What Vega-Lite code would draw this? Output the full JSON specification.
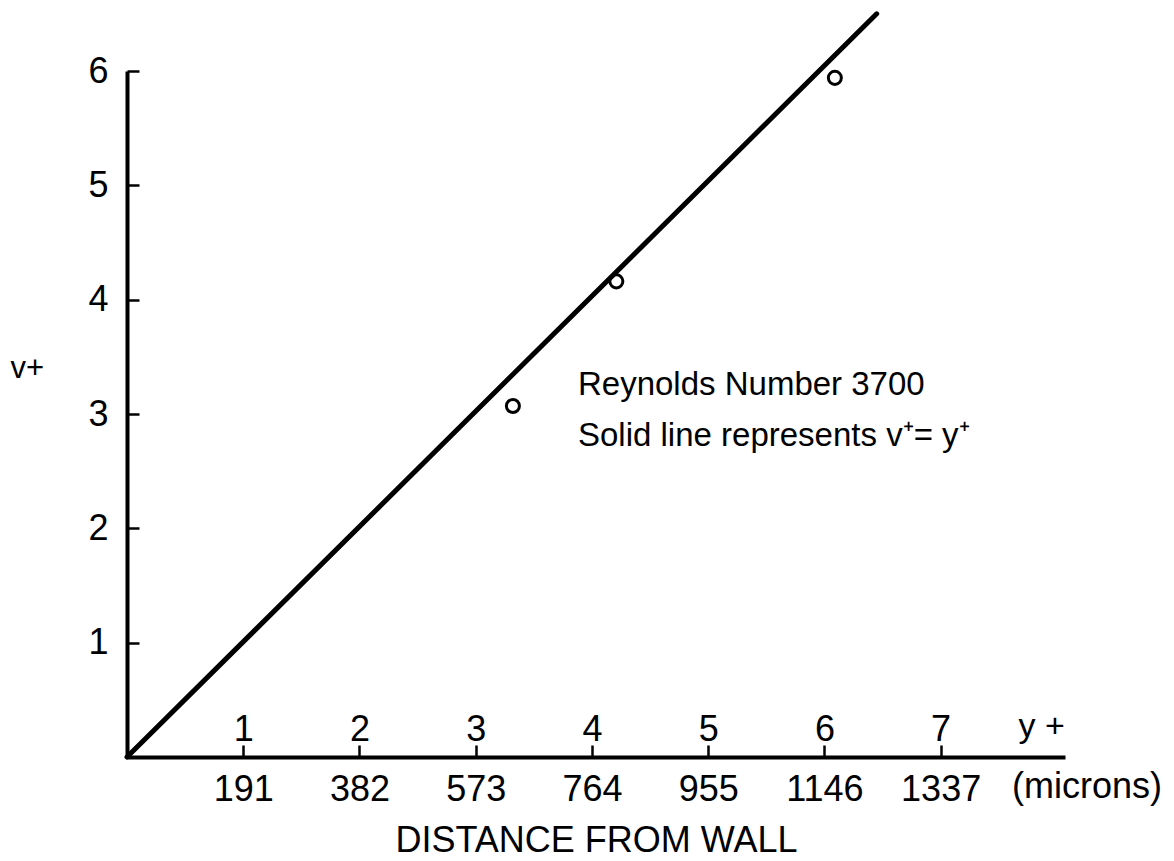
{
  "$schema": "https://vega.github.io/schema/vega-lite/v6.json",
  "width": 938,
  "height": 686,
  "autosize": "none",
  "padding": {"left": 127, "top": 71, "right": 109, "bottom": 104},
  "background": "white",
  "config": {"view": {"stroke": null}, "font": "Liberation Sans", "axis": {"grid": false}},
  "layer": [
    {
      "data": {"values": [{"yplus": 0, "vplus": 0}, {"yplus": 6.45, "vplus": 6.5}]},
      "mark": {"type": "line", "color": "black", "strokeWidth": 5, "strokeCap": "round"},
      "encoding": {
        "x": {"field": "yplus", "type": "quantitative", "scale": {"domain": [0, 8.07], "nice": false, "zero": true},
          "axis": {"orient": "bottom", "values": [1, 2, 3, 4, 5, 6, 7], "labelExpr": "'' + round(datum.value * 191)", "ticks": false, "domain": true, "domainColor": "black", "domainWidth": 4, "labelFontSize": 36, "labelColor": "black", "labelBaseline": "alphabetic", "labelPadding": 43, "labelAlign": "center", "labelFlush": false, "labelOverlap": false, "title": "DISTANCE FROM WALL", "titleFontSize": 36, "titleFontWeight": "normal", "titleColor": "black", "titleBaseline": "alphabetic", "titleY": 94, "titleX": 469, "titleAlign": "center"}},
        "y": {"field": "vplus", "type": "quantitative", "scale": {"domain": [0, 6], "nice": false},
          "axis": {"orient": "left", "values": [1, 2, 3, 4, 5, 6], "tickSize": -12, "tickWidth": 2.5, "tickColor": "black", "domain": true, "domainColor": "black", "domainWidth": 4, "labelPadding": 31, "labelFontSize": 36, "labelColor": "black", "labelAlign": "right", "labelBaseline": "middle", "labelFlush": false, "labelOverlap": false, "title": "v+", "titleAngle": 0, "titleFontSize": 31, "titleFontWeight": "normal", "titleColor": "black", "titleAlign": "left", "titleBaseline": "alphabetic", "titleX": -117, "titleY": 306}}
      }
    },
    {
      "data": {"values": [{"yplus": 3.32, "vplus": 3.07}, {"yplus": 4.21, "vplus": 4.16}, {"yplus": 6.09, "vplus": 5.94}]},
      "mark": {"type": "point", "shape": "circle", "filled": false, "stroke": "black", "strokeWidth": 3, "size": 170, "opacity": 1},
      "encoding": {
        "x": {"field": "yplus", "type": "quantitative", "scale": {"domain": [0, 8.07], "nice": false, "zero": true},
          "axis": {"orient": "top", "offset": -686, "values": [1, 2, 3, 4, 5, 6, 7], "tickSize": 12, "tickWidth": 2.5, "tickColor": "black", "domain": false, "labelFontSize": 36, "labelColor": "black", "labelBaseline": "alphabetic", "labelPadding": 5, "labelFlush": false, "labelOverlap": false, "title": null}},
        "y": {"field": "vplus", "type": "quantitative", "scale": {"domain": [0, 6], "nice": false}, "axis": null}
      }
    },
    {
      "data": {"values": [{"yplus": 3.88, "vplus": 3.167, "label": "Reynolds Number 3700"}, {"yplus": 3.88, "vplus": 2.72, "label": "Solid line represents  v⁺= y⁺"}]},
      "mark": {"type": "text", "align": "left", "baseline": "alphabetic", "fontSize": 33, "color": "black"},
      "encoding": {
        "x": {"field": "yplus", "type": "quantitative", "scale": {"domain": [0, 8.07], "nice": false, "zero": true}, "axis": null},
        "y": {"field": "vplus", "type": "quantitative", "scale": {"domain": [0, 6], "nice": false}, "axis": null},
        "text": {"field": "label"}
      }
    },
    {
      "data": {"values": [{"yplus": 7.87, "vplus": 0, "label": "y +"}]},
      "mark": {"type": "text", "align": "center", "baseline": "alphabetic", "fontSize": 34, "color": "black", "dy": -20},
      "encoding": {
        "x": {"field": "yplus", "type": "quantitative", "scale": {"domain": [0, 8.07], "nice": false, "zero": true}, "axis": null},
        "y": {"field": "vplus", "type": "quantitative", "scale": {"domain": [0, 6], "nice": false}, "axis": null},
        "text": {"field": "label"}
      }
    },
    {
      "data": {"values": [{"yplus": 8.26, "vplus": 0, "label": "(microns)"}]},
      "mark": {"type": "text", "align": "center", "baseline": "alphabetic", "fontSize": 36, "color": "black", "dy": 41},
      "encoding": {
        "x": {"field": "yplus", "type": "quantitative", "scale": {"domain": [0, 8.07], "nice": false, "zero": true}, "axis": null},
        "y": {"field": "vplus", "type": "quantitative", "scale": {"domain": [0, 6], "nice": false}, "axis": null},
        "text": {"field": "label"}
      }
    }
  ],
  "resolve": {"axis": {"x": "independent", "y": "independent"}}
}
